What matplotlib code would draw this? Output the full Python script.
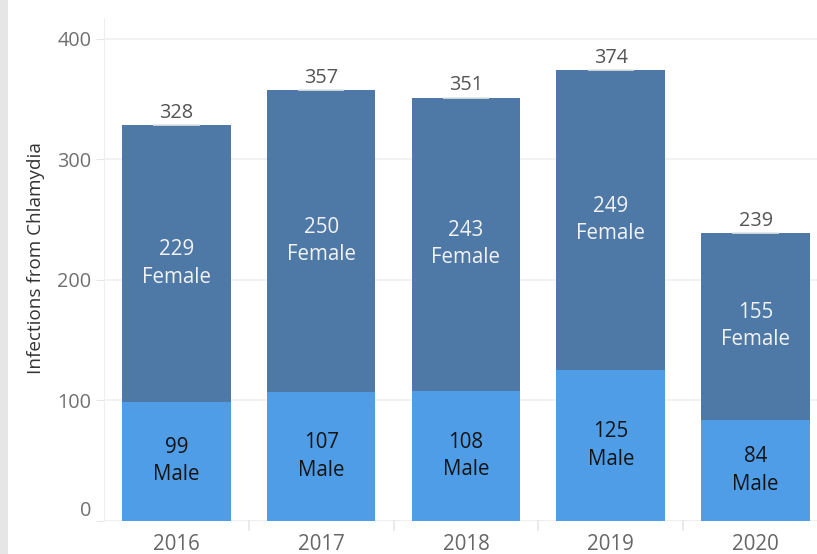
import matplotlib
matplotlib.use("Agg")
import matplotlib.pyplot as plt
from matplotlib.transforms import blended_transform_factory

plt.rcParams["font.family"] = ["Open Sans", "DejaVu Sans"]

years = ["2016", "2017", "2018", "2019", "2020"]
male = [99, 107, 108, 125, 84]
female = [229, 250, 243, 249, 155]
y_ticks = [0, 100, 200, 300, 400]

male_color = "#4e9de6"
female_color = "#4e79a7"
totals = [m + f for m, f in zip(male, female)]

W, H = 817, 554
fig = plt.figure(figsize=(W / 100, H / 100), dpi=100)
fig.patch.set_facecolor("white")

# light panel edge on the far left
fig.patches.append(plt.Rectangle((0, 0), 8 / W, 1, transform=fig.transFigure,
                                 facecolor="#e6e6e6", edgecolor="none"))

ax = fig.add_axes([104 / W, (H - 521) / H, (W - 104) / W, (521 - 18) / H])
x = list(range(len(years)))
bw = 0.75
ax.bar(x, male, width=bw, color=male_color, zorder=2)
ax.bar(x, female, width=bw, bottom=male, color=female_color, zorder=2)

ax.set_xlim(-0.5, 4 + (W - 755.5) / 145)
ax.set_ylim(0, 417)

for i in x:
    ax.text(i, male[i] / 2, f"{male[i]}\nMale", ha="center", va="center",
            fontsize=14.8, color="#141414", linespacing=1.4, zorder=3)
    ax.text(i, male[i] + female[i] / 2, f"{female[i]}\nFemale", ha="center",
            va="center", fontsize=14.8, color="#f2f2f2", linespacing=1.4, zorder=3)
    ax.text(i, totals[i] + 1.8, f"{totals[i]}", ha="center", va="bottom",
            fontsize=14.3, color="#555555", zorder=3)
    ax.plot([i - 0.16, i + 0.16], [totals[i], totals[i]], color="#e4e4e4",
            lw=1.2, zorder=3, solid_capstyle="butt")

ax.set_yticks(y_ticks)
ax.set_yticklabels([str(v) for v in y_ticks])
ax.tick_params(axis="y", length=6, color="#e6e6e6", labelcolor="#707070",
               labelsize=14.3, pad=3)
ax.set_xticks(x)
ax.set_xticklabels(years)
ax.tick_params(axis="x", length=0, labelcolor="#666666", labelsize=14.8, pad=9)
ax.get_yticklabels()[0].set_verticalalignment("bottom")

ax.grid(axis="y", color="#f0f0f0", lw=1.2, zorder=0)
ax.set_axisbelow(True)
for s in ["top", "right", "bottom"]:
    ax.spines[s].set_visible(False)
ax.spines["left"].set_color("#eeeeee")
ax.axhline(0, color="#eeeeee", lw=1.2, zorder=1)

# category dividers below the baseline
trans = blended_transform_factory(ax.transData, ax.transAxes)
for b in [i + 0.5 for i in x[:-1]]:
    ax.plot([b, b], [0, -9 / (521 - 18)], transform=trans, color="#e6e6e6",
            lw=1.2, clip_on=False)

ax.set_ylabel("Infections from Chlamydia", fontsize=13.6, color="#333333",
              labelpad=9, y=0.522)

fig.savefig("out.png", dpi=100, facecolor="white")
